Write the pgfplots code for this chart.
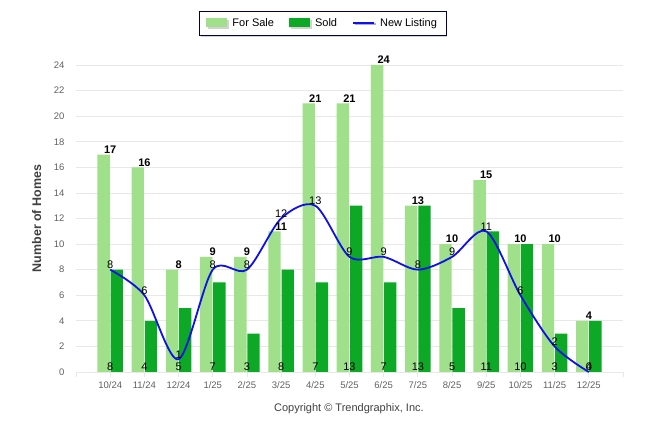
\documentclass[border=0pt]{standalone}
\usepackage{fontspec}
\setmainfont{Liberation Sans}
\usepackage{pgfplots}
\pgfplotsset{compat=1.18}
\usetikzlibrary{shadows}
\definecolor{forsale}{HTML}{A0E08A}
\definecolor{sold}{HTML}{0CA826}
\definecolor{newl}{HTML}{1010E8}
\definecolor{gridc}{HTML}{E8E8E8}
\definecolor{tickc}{HTML}{606060}
\begin{document}
\begin{tikzpicture}
\path[use as bounding box] (-76pt,-62pt) rectangle (570pt,372pt);
\begin{axis}[
  at={(0pt,0pt)}, anchor=south west,
  scale only axis,
  width=547pt, height=307pt,
  xmin=-1, xmax=15, ymin=0, ymax=24,
  axis x line*=bottom, axis y line*=left,
  x axis line style={draw=gridc, line width=0.8pt},
  y axis line style={draw=none},
  xtick={0,...,14},
  xticklabels={10/24,11/24,12/24,1/25,2/25,3/25,4/25,5/25,6/25,7/25,8/25,9/25,10/25,11/25,12/25},
  extra x ticks={-1,15}, extra x tick labels={},
  extra x tick style={grid=none},
  major tick length=5pt,
  tick align=outside,
  xtick style={draw=gridc, line width=0.8pt},
  ytick={0,2,...,24},
  ymajorgrids, grid style={draw=gridc, line width=0.7pt},
  ytick style={draw=none},
  tick label style={font=\fontsize{9.5}{11}\selectfont, text=tickc},
  /pgf/number format/assume math mode=true,
  xticklabel style={yshift=-1pt},
  yticklabel style={xshift=-3pt},
  ylabel={Number of Homes},
  ylabel style={font=\bfseries\fontsize{12.5}{14}\selectfont, text=black!75, at={(axis description cs:-0.072,0.5)}, anchor=center},
  legend style={at={(axis description cs:0.451,1.175)}, anchor=north, legend columns=3,
     draw=black!70!blue, line width=0.7pt, fill=white, drop shadow={shadow xshift=1.5pt, shadow yshift=-1.5pt, opacity=0.35},
     font=\fontsize{11}{13}\selectfont, inner xsep=7pt, inner ysep=5pt,
     /tikz/every odd column/.append style={column sep=3pt},
     /tikz/every even column/.append style={column sep=13pt}},
  legend cell align=left,
  clip=false,
]
\addplot[ybar, bar width=12.4pt, bar shift=-6.6pt, fill=forsale, draw=none,
  legend image code/.code={\fill[forsale] (0pt,-4pt) rectangle (21pt,5pt);},
  nodes near coords, every node near coord/.append style={font=\bfseries\fontsize{11}{13}\selectfont, inner sep=1pt, text=black}]
  coordinates {(0,17)(1,16)(2,8)(3,9)(4,9)(5,11)(6,21)(7,21)(8,24)(9,13)(10,10)(11,15)(12,10)(13,10)(14,4)};
\addlegendentry{For Sale}
\addplot[ybar, bar width=12.4pt, bar shift=6.6pt, fill=sold, draw=none,
  legend image code/.code={\fill[sold] (0pt,-4pt) rectangle (21pt,5pt);}]
  coordinates {(0,8)(1,4)(2,5)(3,7)(4,3)(5,8)(6,7)(7,13)(8,7)(9,13)(10,5)(11,11)(12,10)(13,3)(14,4)};
\addlegendentry{Sold}
\addplot[newl, line width=1.8pt, smooth, tension=0.5, mark=none,
  legend image code/.code={\draw[newl, line width=2pt] (0pt,0.5pt) -- (21pt,0.5pt);},
  nodes near coords, every node near coord/.append style={font=\fontsize{11}{13}\selectfont, inner sep=1pt, text=black, line width=0pt}]
  coordinates {(0,8)(1,6)(2,1)(3,8)(4,8)(5,12)(6,13)(7,9)(8,9)(9,8)(10,9)(11,11)(12,6)(13,2)(14,0)};
\addlegendentry{New Listing}
% Sold labels at the bottom
\addplot[draw=none, mark=none, forget plot, point meta=explicit symbolic,
  nodes near coords, every node near coord/.append style={font=\fontsize{11}{13}\selectfont, anchor=south, yshift=0.5pt, inner sep=1pt, text=black}]
  coordinates {(0,0)[8](1,0)[4](2,0)[5](3,0)[7](4,0)[3](5,0)[8](6,0)[7](7,0)[13](8,0)[7](9,0)[13](10,0)[5](11,0)[11](12,0)[10](13,0)[3](14,0)[4]};
\node[font=\fontsize{11}{13}\selectfont, text=black!75] at (axis description cs:0.499,-0.12) {Copyright \textcopyright\ Trendgraphix, Inc.};
\end{axis}
\end{tikzpicture}
\end{document}
